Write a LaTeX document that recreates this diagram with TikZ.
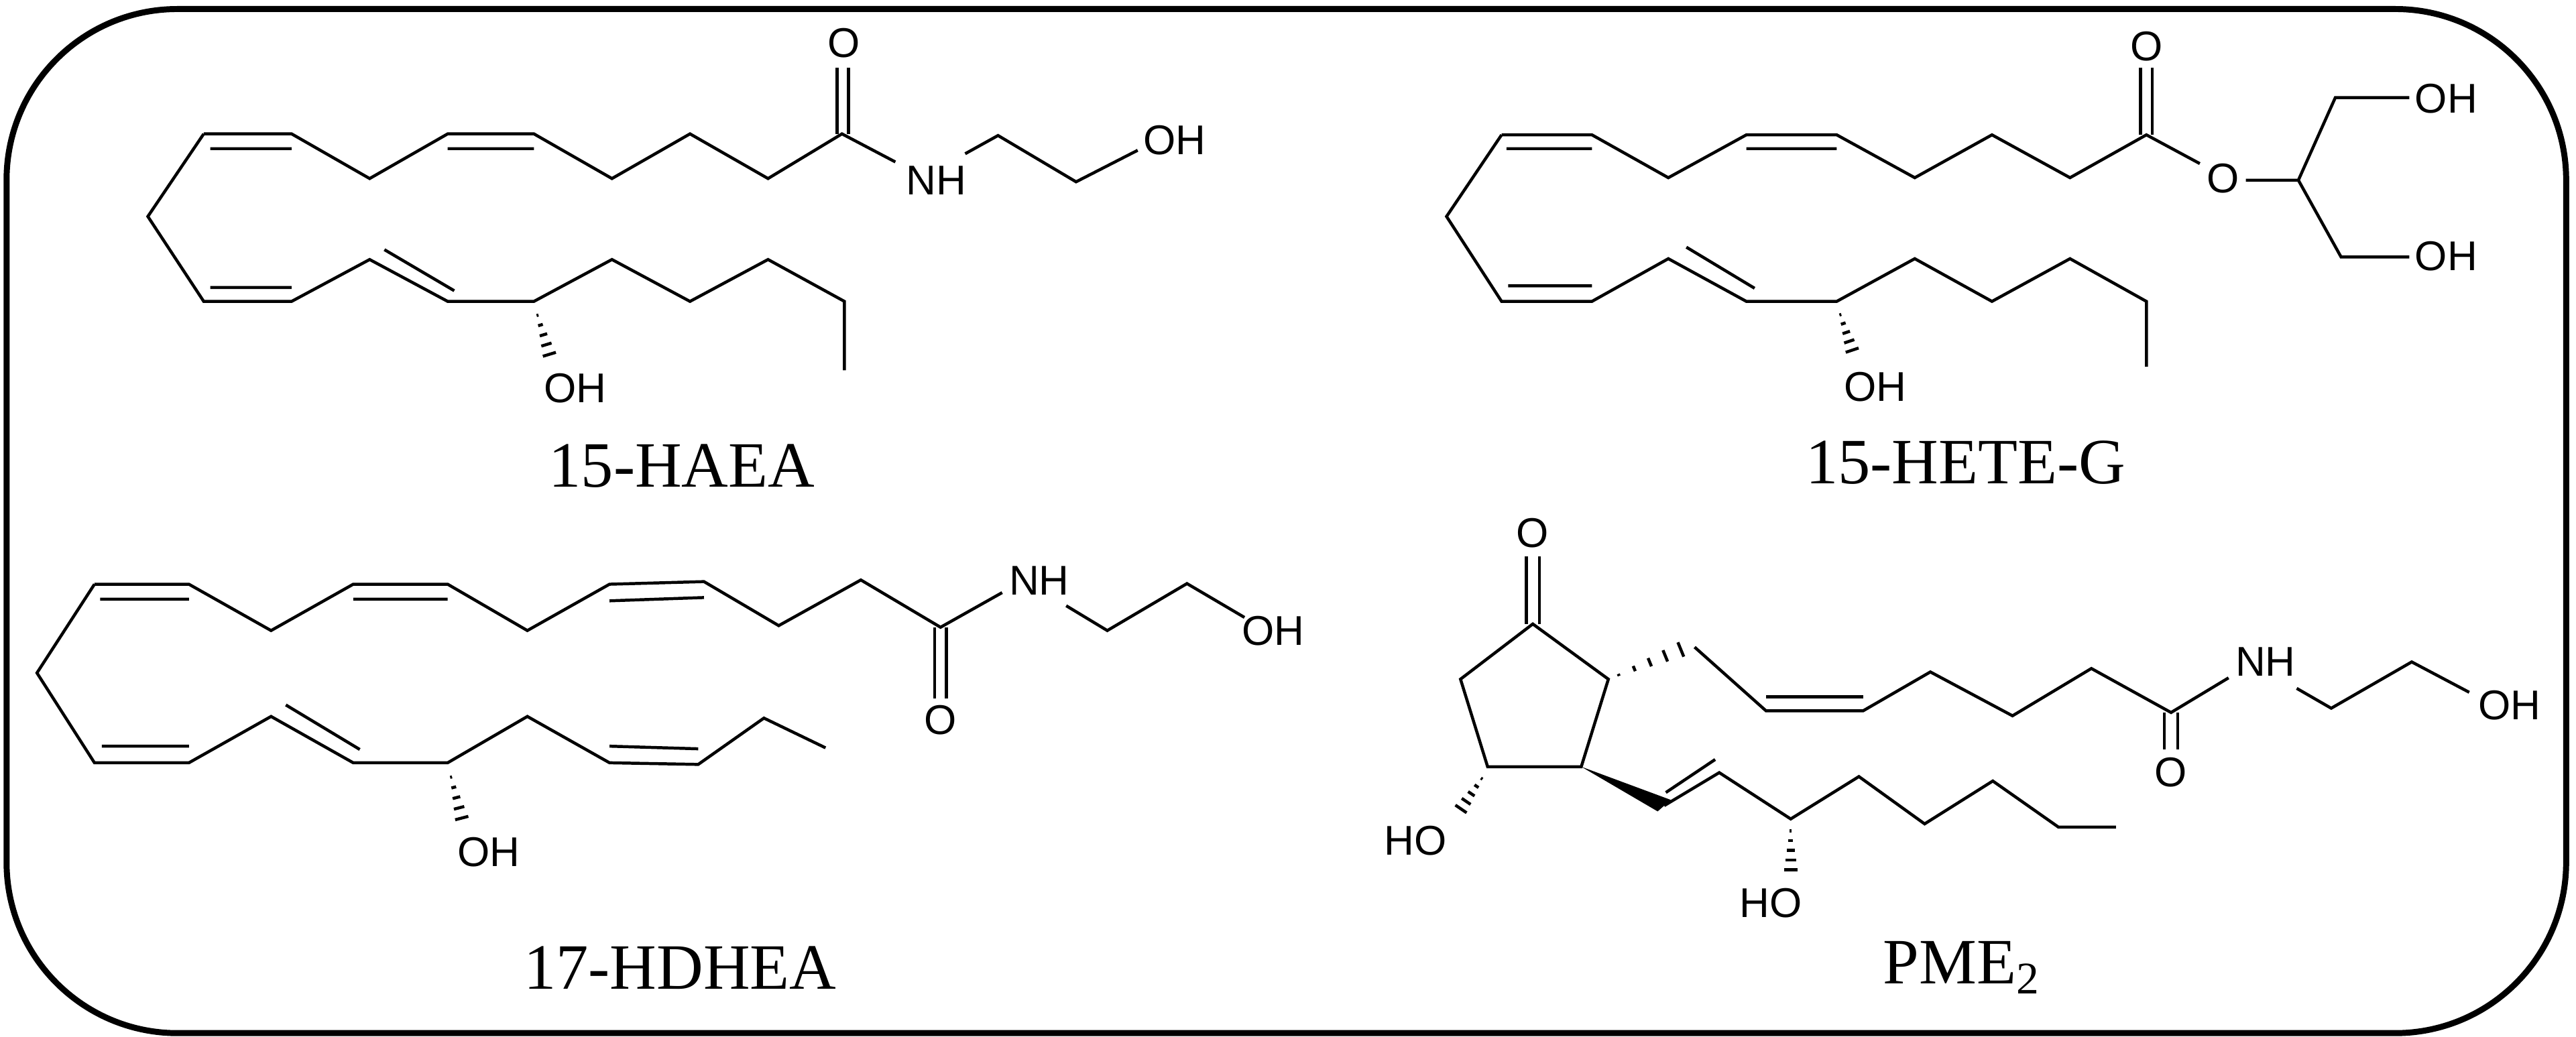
\documentclass[tikz,border=0pt]{standalone}
\usepackage{fontspec}
\setmainfont{Liberation Serif}
\newfontfamily\atomfont{Liberation Sans}
\usetikzlibrary{calc}
\tikzset{bd/.style={line width=1.3pt,line join=miter},
 atom/.style={font=\atomfont\fontsize{18}{18}\selectfont,inner sep=0pt},
 ttl/.style={font=\fontsize{28}{28}\selectfont,inner sep=0pt}}
\newcommand\hashbond[3]{\foreach \t in {0.12,0.3,0.48,0.66,0.84,1.0}{\draw[line width=1.3pt] ($(#1)!\t!(#2)!{\t*#3}!90:(#2)$) -- ($(#1)!\t!(#2)!{\t*#3}!-90:(#2)$);}}
\begin{document}
\begin{tikzpicture}[x=0.025cm,y=-0.025cm]
\useasboundingbox (0,0) rectangle (1568,631);
\draw[line width=2.6pt,rounded corners=2.6cm] (4,5.5) rectangle (1562,629);
% ---- 15-HAEA
\draw[bd] (124,81.5)--(177.5,81.5)--(225,108.7)--(272.5,81.5)--(325,81.5)--(372.5,108.7)--(420,81.5)--(467.5,108.7)--(512.5,81.5)--(545,98.6);
\draw[bd] (124,81.5)--(90,131.8)--(124,183.5)--(177.5,183.5)--(225,158)--(272.5,183.5)--(325,183.5)--(372.5,158)--(420,183.5)--(467.5,158)--(514,183.5)--(514,225.4);
\draw[bd] (128,90.5)--(177.5,90.5) (272.5,90.5)--(325,90.5) (128,175)--(177.5,175) (234,152)--(276.5,177);
\draw[bd] (509.5,81.5)--(509.5,41.2) (516.5,81.5)--(516.5,41.2);
\draw[bd] (587.5,93.6)--(607.5,82.5)--(655,110.7)--(692.5,91.5);
\coordinate (h1a) at (326,188); \coordinate (h1b) at (336,221);
\hashbond{h1a}{h1b}{3.5pt}
\node[atom] (o1) at (513.5,26) {O};
\node[atom] (n1) at (570,109.7) {NH};
\node[atom] (oh1) at (715,85.5) {OH};
\node[atom] (oh1b) at (350,236.4) {OH};
\node[ttl] (t1) at (415,283.7) {15-HAEA};
% ---- 15-HETE-G
\draw[bd] (914,82.1)--(969,82.1)--(1015.5,108.2)--(1063,82.1)--(1118,82.1)--(1165.5,108.2)--(1212.5,82.1)--(1260,108.2)--(1306.5,82.1)--(1339,99.6);
\draw[bd] (914,82.1)--(880.5,131.8)--(914,183.5)--(969,183.5)--(1015.5,157.5)--(1063,183.5)--(1118,183.5)--(1165.5,157.5)--(1212.5,183.5)--(1260,157.5)--(1306.5,183.5)--(1306.5,223.3);
\draw[bd] (917,90.5)--(969,90.5) (1063,90.5)--(1118,90.5) (918,174)--(969,174) (1026.5,150.5)--(1068,175.5);
\draw[bd] (1303,82.1)--(1303,41.2) (1310,82.1)--(1310,41.2);
\draw[bd] (1367,109.7)--(1399,109.7)--(1421.5,59.4)--(1466.5,59.4);
\draw[bd] (1399,109.7)--(1425,156.5)--(1466.5,156.5);
\coordinate (h2a) at (1119,188); \coordinate (h2b) at (1129,218);
\hashbond{h2a}{h2b}{3.5pt}
\node[atom] (o2) at (1306.5,28.2) {O};
\node[atom] (o2e) at (1353,108.7) {O};
\node[atom] (oh2a) at (1489,60) {OH};
\node[atom] (oh2b) at (1489,156) {OH};
\node[atom] (oh2c) at (1141.5,235.4) {OH};
\node[ttl] (t2) at (1196.5,281.7) {15-HETE-G};
% ---- 17-HDHEA
\draw[bd] (57.5,355.7)--(115,355.7)--(165,383.9)--(215,355.7)--(272.5,355.7)--(321,383.9)--(371,355.7)--(428.5,354.1)--(474,380.9)--(524,353.1)--(572.5,381.9)--(610,360.8);
\draw[bd] (57.5,355.7)--(22.5,409.7)--(57.5,464.4)--(115,464.4)--(165,436.2)--(215,464.4)--(272.5,464.4)--(321,436.2)--(371,464.4)--(425,465.4)--(465,437.2)--(502.5,455.3);
\draw[bd] (61,364.8)--(115,364.8) (215,364.8)--(272.5,364.8) (371,365.8)--(428.5,363.8) (62,454.3)--(115,454.3) (174,429.2)--(219,456.3) (371,454.3)--(425,455.9);
\draw[bd] (569,381.9)--(569,425.2) (576,381.9)--(576,425.2);
\draw[bd] (649,368.8)--(674,383.9)--(722.5,355.3)--(757.5,375.9);
\coordinate (h3a) at (273.5,469); \coordinate (h3b) at (282.5,503.6);
\hashbond{h3a}{h3b}{3.5pt}
\node[atom] (o3) at (572.5,438.2) {O};
\node[atom] (n3) at (632.5,353.7) {NH};
\node[atom] (oh3) at (775,384) {OH};
\node[atom] (oh3b) at (297.5,518.7) {OH};
\node[ttl] (t3) at (414,589.1) {17-HDHEA};
% ---- PME2
\draw[bd] (933,379.9)--(979,413.5)--(962.5,466.8)--(905.5,466.8)--(889,413.5)--cycle;
\draw[bd] (929,379.9)--(929,338.6) (937,379.9)--(937,338.6);
\draw[bd] (1031.5,394)--(1075,432.8)--(1134,432.8)--(1175,409.1)--(1225,435.8)--(1273,407)--(1321.5,433.8)--(1356.5,412.7);
\draw[bd] (1075,424.2)--(1134,424.2);
\draw[bd] (1317.5,433.8)--(1317.5,456.4) (1325.5,433.8)--(1325.5,456.4);
\draw[bd] (1398,419.1)--(1419,431.2)--(1468,403)--(1503,421.5);
\coordinate (c8) at (979,413.5); \coordinate (w1) at (1031.5,392);
\hashbond{c8}{w1}{4pt}
\fill (962.5,466.8) -- (1009,494) -- (1017,487) -- cycle;
\draw[bd] (1013,490.5)--(1046.5,470.4)--(1090,498.6)--(1131.5,472.8)--(1171.5,501.6)--(1213,475.5)--(1253,503.6)--(1288,503.6);
\draw[bd] (1014,482.5)--(1044,462.4);
\coordinate (c15) at (1090,502); \coordinate (h4b) at (1090,534.8);
\hashbond{c15}{h4b}{3.5pt}
\coordinate (c11) at (904,471); \coordinate (h5b) at (886.5,496.6);
\hashbond{c11}{h5b}{3.5pt}
\node[atom] (o4) at (933,324.6) {O};
\node[atom] (o4b) at (1321.5,470.4) {O};
\node[atom] (n4) at (1379,403) {NH};
\node[atom] (oh4) at (1527.5,429.2) {OH};
\node[atom] (ho4a) at (1078,549.9) {HO};
\node[atom] (ho4b) at (861.5,511.7) {HO};
\node[ttl] (t4) at (1194,589.1) {PME\textsubscript{2}};
\end{tikzpicture}
\end{document}
